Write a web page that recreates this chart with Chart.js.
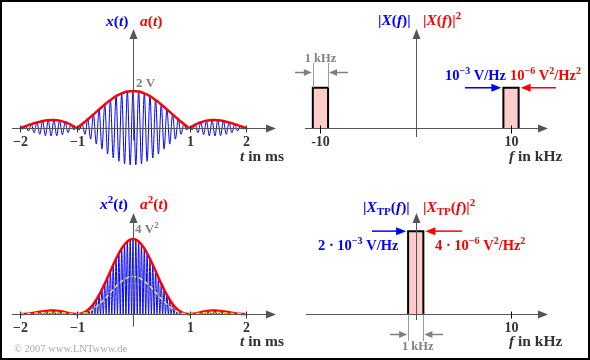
<!DOCTYPE html>
<html>
<head>
<meta charset="utf-8">
<script src="https://cdn.jsdelivr.net/npm/chart.js@4/dist/chart.umd.min.js"></script>
<style>
body{margin:0;background:#fff}
#wrap{position:relative;width:590px;height:360px;overflow:hidden;background:#fff}
#wrap canvas{position:absolute}
#frame{position:absolute;left:0;top:0;width:586px;height:356px;border:2px solid #000;pointer-events:none}
</style>
</head>
<body>
<div id="wrap">
<canvas id="c1" width="295" height="180" style="left:0;top:0"></canvas>
<canvas id="c2" width="295" height="180" style="left:295px;top:0"></canvas>
<canvas id="c3" width="295" height="180" style="left:0;top:180px"></canvas>
<canvas id="c4" width="295" height="180" style="left:295px;top:180px"></canvas>
<div id="frame"></div>
</div>
<script>
// time samples in ms, from -2 to 2 in steps of 0.05
var tStart = -2, tStep = 0.05;
var tTicks = [-2, -1, 1, 2];
var tTickLabels = ['\u22122', '\u22121', '1', '2'];

// envelope a(t) in V
var aEnv = [0.00,0.05,0.10,0.16,0.21,0.26,0.30,0.34,0.38,0.41,0.42,0.43,0.43,0.42,0.40,0.36,0.31,0.25,0.18,0.09,
  0.00,0.10,0.22,0.34,0.47,0.60,0.74,0.87,1.01,1.14,1.27,1.40,1.51,1.62,1.72,1.80,1.87,1.93,1.97,1.99,
  2.00,
  1.99,1.97,1.93,1.87,1.80,1.72,1.62,1.51,1.40,1.27,1.14,1.01,0.87,0.74,0.60,0.47,0.34,0.22,0.10,0.00,
  0.09,0.18,0.25,0.31,0.36,0.40,0.42,0.43,0.43,0.42,0.41,0.38,0.34,0.30,0.26,0.21,0.16,0.10,0.05,0.00];

// extremes of the 10 kHz signal x(t) in V
var xPeaks = [0.00,-0.05,0.10,-0.16,0.21,-0.26,0.30,-0.34,0.38,-0.41,0.42,-0.43,0.43,-0.42,0.40,-0.36,0.31,-0.25,0.18,-0.09,
  0.00,-0.10,0.22,-0.34,0.47,-0.60,0.74,-0.87,1.01,-1.14,1.27,-1.40,1.51,-1.62,1.72,-1.80,1.87,-1.93,1.97,-1.99,
  2.00,
  -1.99,1.97,-1.93,1.87,-1.80,1.72,-1.62,1.51,-1.40,1.27,-1.14,1.01,-0.87,0.74,-0.60,0.47,-0.34,0.22,-0.10,0.00,
  -0.09,0.18,-0.25,0.31,-0.36,0.40,-0.42,0.43,-0.43,0.42,-0.41,0.38,-0.34,0.30,-0.26,0.21,-0.16,0.10,-0.05,0.00];

// a^2(t) in V^2
var a2Env = [0.00,0.00,0.01,0.02,0.04,0.07,0.09,0.12,0.14,0.16,0.18,0.19,0.19,0.18,0.16,0.13,0.10,0.06,0.03,0.01,
  0.00,0.01,0.05,0.12,0.22,0.36,0.54,0.76,1.02,1.31,1.62,1.95,2.29,2.63,2.95,3.24,3.50,3.71,3.87,3.97,
  4.00,
  3.97,3.87,3.71,3.50,3.24,2.95,2.63,2.29,1.95,1.62,1.31,1.02,0.76,0.54,0.36,0.22,0.12,0.05,0.01,0.00,
  0.01,0.03,0.06,0.10,0.13,0.16,0.18,0.19,0.19,0.18,0.16,0.14,0.12,0.09,0.07,0.04,0.02,0.01,0.00,0.00];

// mean power (yellow dashed) in V^2
var pMean = [0.00,0.00,0.01,0.01,0.02,0.03,0.05,0.06,0.07,0.08,0.09,0.10,0.10,0.09,0.08,0.07,0.05,0.03,0.02,0.01,
  0.00,0.01,0.03,0.06,0.11,0.18,0.27,0.38,0.51,0.66,0.81,0.98,1.15,1.32,1.48,1.62,1.75,1.86,1.94,1.99,
  2.00,
  1.99,1.94,1.86,1.75,1.62,1.48,1.32,1.15,0.98,0.81,0.66,0.51,0.38,0.27,0.18,0.11,0.06,0.03,0.01,0.00,
  0.01,0.02,0.03,0.05,0.07,0.08,0.09,0.10,0.10,0.09,0.08,0.07,0.06,0.05,0.03,0.02,0.01,0.01,0.00,0.00];

// spectra (f in kHz)
var fTicksTop = [-10, 10];
var fTickLabelsTop = ['-10', '10'];
var fTicksBot = [10];
var fTickLabelsBot = ['10'];
var bandCenters = [-10, 10];
var bandHeight = 1;      // 10^-3 V/Hz
var bandHalf = 0.8;      // half width as drawn
var tpCenter = 0;
var tpHeight = 2;        // 2*10^-3 V/Hz

var BLUE = '#0000ff', RED = '#ff0000', AX = '#555555', GRAY = '#808080', DARK = '#333333';
var SERIF = '"Liberation Serif", "Times New Roman", serif';

function pts(vals, step) {
  return vals.map(function(v, i){ return {x: +(tStart + i * step).toFixed(4), y: v}; });
}
function band(c, h) {
  return [{x: c - bandHalf, y: 0}, {x: c - bandHalf, y: h}, {x: c + bandHalf, y: h}, {x: c + bandHalf, y: 0}];
}

var x2Vals = [];
a2Env.forEach(function(v, i){
  x2Vals.push(v);
  if (i < a2Env.length - 1) x2Vals.push(0);
});

// text with italic / superscript / subscript pieces
function rich(ctx, x, y, parts, color, size, align) {
  var segs = parts.map(function(p){
    var f = p[1] || '';
    var small = f.indexOf('^') >= 0 || f.indexOf('_') >= 0;
    var s = small ? Math.round(size * 0.72) : size;
    var font = (f.indexOf('i') >= 0 ? 'italic ' : '') + (f.indexOf('n') >= 0 ? '' : 'bold ') + s + 'px ' + SERIF;
    ctx.font = font;
    return {t: p[0], font: font, w: ctx.measureText(p[0]).width,
      dy: f.indexOf('^') >= 0 ? -size * 0.4 : (f.indexOf('_') >= 0 ? size * 0.22 : 0)};
  });
  var total = segs.reduce(function(s, g){ return s + g.w; }, 0);
  var cx = align === 'center' ? x - total / 2 : (align === 'right' ? x - total : x);
  ctx.fillStyle = color;
  ctx.textAlign = 'left';
  ctx.textBaseline = 'alphabetic';
  segs.forEach(function(g){
    ctx.font = g.font;
    ctx.fillText(g.t, cx, y + g.dy);
    cx += g.w;
  });
}

function arrow(ctx, x1, y1, x2, y2, color, lw, hl, hw) {
  var a = Math.atan2(y2 - y1, x2 - x1);
  ctx.strokeStyle = color; ctx.fillStyle = color; ctx.lineWidth = lw;
  ctx.beginPath();
  ctx.moveTo(x1, y1);
  ctx.lineTo(x2 - Math.cos(a) * hl * 0.8, y2 - Math.sin(a) * hl * 0.8);
  ctx.stroke();
  ctx.beginPath();
  ctx.moveTo(x2, y2);
  ctx.lineTo(x2 - hl * Math.cos(a) + hw * Math.sin(a), y2 - hl * Math.sin(a) - hw * Math.cos(a));
  ctx.lineTo(x2 - hl * Math.cos(a) - hw * Math.sin(a), y2 - hl * Math.sin(a) + hw * Math.cos(a));
  ctx.closePath();
  ctx.fill();
}

function seg(ctx, x1, y1, x2, y2, color, lw) {
  ctx.strokeStyle = color; ctx.lineWidth = lw;
  ctx.beginPath(); ctx.moveTo(x1, y1); ctx.lineTo(x2, y2); ctx.stroke();
}

function makeChart(id, datasets, xr, yr, draw) {
  return new Chart(document.getElementById(id), {
    type: 'line',
    data: { datasets: datasets },
    options: {
      responsive: false,
      animation: false,
      events: [],
      layout: { padding: 0 },
      plugins: { legend: { display: false }, tooltip: { enabled: false } },
      elements: { point: { radius: 0 } },
      scales: {
        x: { type: 'linear', display: false, min: xr[0], max: xr[1] },
        y: { display: false, min: yr[0], max: yr[1] }
      }
    },
    plugins: [{
      id: 'deco_' + id,
      afterDatasetsDraw: function(c) {
        var ctx = c.ctx;
        ctx.save();
        draw(ctx, c.scales.x, c.scales.y);
        ctx.restore();
      }
    }]
  });
}

function timeAxes(ctx, xs, ys, yTop, labY, unitY) {
  var y0 = Math.round(ys.getPixelForValue(0)) + 0.5;
  var x0 = Math.round(xs.getPixelForValue(0)) + 0.5;
  arrow(ctx, 12, y0, 276, y0, AX, 1, 10, 4);
  arrow(ctx, x0, y0 + 12, x0, yTop, AX, 1, 10, 4);
  tTicks.forEach(function(t, i){
    var px = Math.round(xs.getPixelForValue(t)) + 0.5;
    seg(ctx, px, y0 - 3, px, y0 + 4, DARK, 1);
    rich(ctx, px, labY, [[tTickLabels[i]]], DARK, 14, 'center');
  });
  rich(ctx, 240, unitY, [['t', 'i'], [' in ms']], DARK, 15.5, 'left');
}

// x(t) and a(t)
makeChart('c1', [
  { data: pts(aEnv, tStep), borderColor: RED, borderWidth: 2.5, cubicInterpolationMode: 'monotone' },
  { data: pts(xPeaks, tStep), borderColor: BLUE, borderWidth: 1, cubicInterpolationMode: 'monotone' }
], [-2.354, 2.867], [-2.81, 6.92], function(ctx, xs, ys){
  timeAxes(ctx, xs, ys, 29, 146, 161);
  rich(ctx, 106, 26, [['x', 'i'], ['('], ['t', 'i'], [')']], BLUE, 15.5, 'left');
  rich(ctx, 140, 26, [['a', 'i'], ['('], ['t', 'i'], [')']], RED, 15.5, 'left');
  rich(ctx, 136, 87, [['2 V']], GRAY, 13, 'left');
});

// |X(f)| and |X(f)|^2
makeChart('c2', bandCenters.map(function(c){
  return { data: band(c, bandHeight), borderColor: '#000', borderWidth: 2, backgroundColor: '#ffcccc', fill: 'origin', tension: 0 };
}), [-12.67, 18.29], [-1.27, 3.16], function(ctx, xs, ys){
  var y0 = Math.round(ys.getPixelForValue(0)) + 0.5;
  var x0 = Math.round(xs.getPixelForValue(0)) + 0.5;
  var yh = ys.getPixelForValue(bandHeight);
  arrow(ctx, 10, y0, 253, y0, AX, 1, 10, 4);
  arrow(ctx, x0, 137, x0, 29, AX, 1, 10, 4);
  fTicksTop.forEach(function(f, i){
    var px = Math.round(xs.getPixelForValue(f)) + 0.5;
    seg(ctx, px, y0 - 3, px, y0 + 5, '#000', 1);
    rich(ctx, px, 146, [[fTickLabelsTop[i]]], DARK, 14, 'center');
  });
  rich(ctx, 214, 161, [['f', 'i'], [' in kHz']], DARK, 15.5, 'left');
  rich(ctx, 83, 25, [['|'], ['X', 'i'], ['('], ['f', 'i'], [')|']], BLUE, 15.5, 'left');
  rich(ctx, 128, 25, [['|'], ['X', 'i'], ['('], ['f', 'i'], [')|'], ['2', '^']], RED, 15.5, 'left');
  // 1 kHz width marker on the left band
  var l = xs.getPixelForValue(bandCenters[0] - bandHalf), r = xs.getPixelForValue(bandCenters[0] + bandHalf);
  seg(ctx, Math.round(l) + 0.5, 63, Math.round(l) + 0.5, yh, '#999', 1);
  seg(ctx, Math.round(r) + 0.5, 63, Math.round(r) + 0.5, yh, '#999', 1);
  arrow(ctx, 0, 72.5, l - 1, 72.5, GRAY, 1.5, 8, 3.5);
  arrow(ctx, r + 20, 72.5, r + 1, 72.5, GRAY, 1.5, 8, 3.5);
  rich(ctx, (l + r) / 2, 62, [['1 kHz']], GRAY, 12.5, 'center');
  // height markers on the right band
  var l2 = xs.getPixelForValue(bandCenters[1] - bandHalf), r2 = xs.getPixelForValue(bandCenters[1] + bandHalf);
  arrow(ctx, 170, yh, l2 - 2, yh, BLUE, 1.5, 10, 4);
  arrow(ctx, 261, yh, r2 + 2, yh, RED, 1.5, 10, 4);
  rich(ctx, 150, 80, [['10'], ['\u22123', '^'], [' V/Hz']], BLUE, 14.5, 'left');
  rich(ctx, 215, 80, [['10'], ['\u22126', '^'], [' V'], ['2', '^'], ['/Hz'], ['2', '^']], RED, 14.5, 'left');
});

// x^2(t) and a^2(t)
makeChart('c3', [
  { data: pts(pMean, tStep), borderColor: '#f0f000', borderWidth: 1.5, borderDash: [4, 3], cubicInterpolationMode: 'monotone' },
  { data: pts(a2Env, tStep), borderColor: RED, borderWidth: 2.5, cubicInterpolationMode: 'monotone' },
  { data: pts(x2Vals, tStep / 2), borderColor: BLUE, borderWidth: 1, cubicInterpolationMode: 'monotone' }
], [-2.354, 2.867], [-2.453, 7.147], function(ctx, xs, ys){
  timeAxes(ctx, xs, ys, 33, 152, 166);
  rich(ctx, 100, 29, [['x', 'i'], ['2', '^'], ['('], ['t', 'i'], [')']], BLUE, 15.5, 'left');
  rich(ctx, 140, 29, [['a', 'i'], ['2', '^'], ['('], ['t', 'i'], [')']], RED, 15.5, 'left');
  rich(ctx, 135, 53, [['4 V'], ['2', '^']], GRAY, 13, 'left');
  rich(ctx, 14, 172, [['\u00a9 2007 www.LNTwww.de', 'n']], '#aaaaaa', 10.5, 'left');
});

// |X_TP(f)| and |X_TP(f)|^2
makeChart('c4', [
  { data: band(tpCenter, tpHeight), borderColor: '#000', borderWidth: 2, backgroundColor: '#ffcccc', fill: 'origin', tension: 0 }
], [-12.67, 18.29], [-1.10, 3.23], function(ctx, xs, ys){
  var y0 = Math.round(ys.getPixelForValue(0)) + 0.5;
  var x0 = Math.round(xs.getPixelForValue(0)) + 0.5;
  var yh = ys.getPixelForValue(tpHeight);
  var l = xs.getPixelForValue(tpCenter - bandHalf), r = xs.getPixelForValue(tpCenter + bandHalf);
  arrow(ctx, 11, y0, 253, y0, AX, 1, 10, 4);
  arrow(ctx, x0, 140, x0, 33, AX, 1, 10, 4);
  fTicksBot.forEach(function(f, i){
    var px = Math.round(xs.getPixelForValue(f)) + 0.5;
    seg(ctx, px, y0 - 3, px, y0 + 4, '#000', 1);
    rich(ctx, px, 152, [[fTickLabelsBot[i]]], DARK, 14, 'center');
  });
  rich(ctx, 214, 166, [['f', 'i'], [' in kHz']], DARK, 15.5, 'left');
  rich(ctx, 68, 32, [['|'], ['X', 'i'], ['TP', '_'], ['('], ['f', 'i'], [')|']], BLUE, 15.5, 'left');
  rich(ctx, 128, 32, [['|'], ['X', 'i'], ['TP', '_'], ['('], ['f', 'i'], [')|'], ['2', '^']], RED, 15.5, 'left');
  arrow(ctx, 77, yh, l - 2, yh, BLUE, 1.5, 10, 4);
  arrow(ctx, 167, yh, r + 2, yh, RED, 1.5, 10, 4);
  rich(ctx, 23, 70, [['2 \u00b7 10'], ['\u22123', '^'], [' V/Hz']], BLUE, 14.5, 'left');
  rich(ctx, 140, 70, [['4 \u00b7 10'], ['\u22126', '^'], [' V'], ['2', '^'], ['/Hz'], ['2', '^']], RED, 14.5, 'left');
  // 1 kHz width marker
  seg(ctx, Math.round(l) + 0.5, y0, Math.round(l) + 0.5, 161, '#999', 1);
  seg(ctx, Math.round(r) + 0.5, y0, Math.round(r) + 0.5, 161, '#999', 1);
  arrow(ctx, 95, 154.5, l - 1, 154.5, GRAY, 1.5, 8, 3.5);
  arrow(ctx, 148, 154.5, r + 1, 154.5, GRAY, 1.5, 8, 3.5);
  rich(ctx, (l + r) / 2 + 2, 170, [['1 kHz']], GRAY, 12.5, 'center');
});
</script>
</body>
</html>
